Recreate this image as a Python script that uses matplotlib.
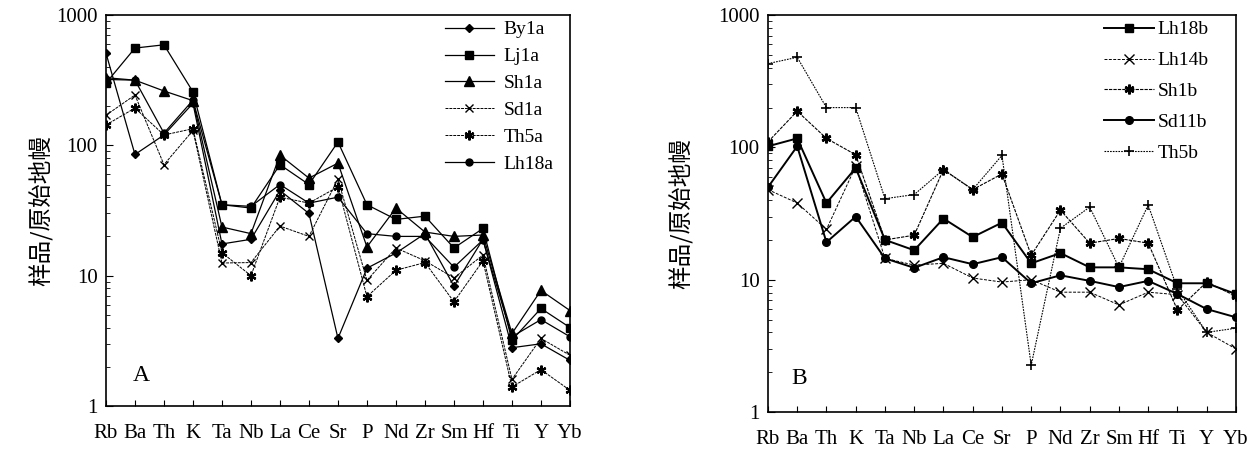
import numpy as np
import matplotlib
matplotlib.use('Agg')
import matplotlib.pyplot as plt
from matplotlib.ticker import LogLocator, NullFormatter, FixedLocator

plt.rcParams['font.family'] = ['Liberation Serif', 'Noto Sans CJK SC', 'DejaVu Sans']

elements = ['Rb', 'Ba', 'Th', 'K', 'Ta', 'Nb', 'La', 'Ce', 'Sr',
            'P', 'Nd', 'Zr', 'Sm', 'Hf', 'Ti', 'Y', 'Yb']

# panel A
by1a = [510, 85, 120, 210, 17.5, 19, 45, 30, 3.3, 11.4, 14.9, 21, 8.3, 19, 2.8, 3.0, 2.24]
lj1a = [300, 557, 590, 257, 35, 33, 71, 50, 106, 35, 27, 28.6, 16.3, 23, 3.2, 5.6, 4.0]
sh1a = [330, 316, 261, 220, 23.6, 21, 84, 56, 73, 16.6, 33, 21.6, 20, 20.5, 3.6, 7.7, 5.4]
sd1a = [170, 243, 71, 130, 12.5, 12.6, 24, 20, 55, 9.2, 16.3, 13, 9.6, 14.4, 1.6, 3.3, 2.45]
th5a = [143, 193, 120, 134, 15, 10, 40, 36, 48, 6.9, 11, 12.6, 6.3, 13, 1.4, 1.9, 1.32]
lh18a = [320, 316, 124, 222, 35, 34, 50, 36, 40, 21, 20, 20, 11.6, 18.8, 3.4, 4.6, 3.4]

# panel B
lh18b = [102, 117, 38, 70, 20, 16.7, 29, 21, 27, 13.3, 15.9, 12.4, 12.4, 12, 9.4, 9.4, 7.8]
lh14b = [48, 38, 24, 72, 14.5, 12.9, 13.3, 10.3, 9.6, 10, 8.05, 8.05, 6.45, 8.05, 7.7, 4.0, 3.0]
sh1b = [110, 188, 117, 88, 20, 21.7, 68, 48, 63, 15.3, 33.6, 18.9, 20.5, 18.9, 5.9, 9.6, 7.5]
sd11b = [50, 102, 19.2, 30, 14.5, 12.3, 14.8, 13.1, 14.8, 9.4, 10.8, 9.8, 8.8, 9.8, 7.8, 6.0, 5.2]
th5b = [430, 480, 200, 200, 41, 44, 68, 48, 87, 2.26, 24.5, 35.4, 12.4, 36.7, 8.5, 4.0, 4.3]

x = np.arange(len(elements))

fig = plt.figure(figsize=(12.54, 4.5), dpi=100)
axA = fig.add_axes([0.0845, 0.0978, 0.370, 0.869])
axB = fig.add_axes([0.6124, 0.0844, 0.3732, 0.882])

seriesA = [
    ('By1a', by1a, dict(marker='D', ms=4.5, ls='-', lw=0.9)),
    ('Lj1a', lj1a, dict(marker='s', ms=5.5, ls='-', lw=0.9)),
    ('Sh1a', sh1a, dict(marker='^', ms=6.5, ls='-', lw=0.9)),
    ('Sd1a', sd1a, dict(marker='x', ms=6, mew=1.0, ls=(0, (3, 1)), lw=0.7)),
    ('Th5a', th5a, dict(marker=(6, 2, 0), ms=7, mew=1.6, ls=(0, (3, 1)), lw=0.7)),
    ('Lh18a', lh18a, dict(marker='o', ms=5, ls='-', lw=0.9)),
]
seriesB = [
    ('Lh18b', lh18b, dict(marker='s', ms=6, ls='-', lw=1.4)),
    ('Lh14b', lh14b, dict(marker='x', ms=6.5, mew=1.0, ls=(0, (3, 1.5)), lw=0.7)),
    ('Sh1b', sh1b, dict(marker=(6, 2, 0), ms=7, mew=1.8, ls=(0, (3, 1)), lw=0.8)),
    ('Sd11b', sd11b, dict(marker='o', ms=5.5, ls='-', lw=1.4)),
    ('Th5b', th5b, dict(marker='+', ms=6.5, mew=1.2, ls=(0, (1.5, 1)), lw=0.8)),
]

cjk = ['Noto Sans CJK SC', 'DejaVu Sans']

for ax, series in [(axA, seriesA), (axB, seriesB)]:
    for name, vals, st in series:
        ax.plot(x, vals, color='black', label=name, **st)
    ax.set_yscale('log')
    ax.set_ylim(1, 1000)
    ax.set_xlim(0, 16)
    ax.set_xticks(x)
    ax.set_xticklabels(elements, fontsize=15)
    ax.yaxis.set_major_locator(FixedLocator([1, 10, 100, 1000]))
    ax.set_yticklabels(['1', '10', '100', '1000'], fontsize=15)
    ax.yaxis.set_minor_locator(LogLocator(base=10, subs=np.arange(2, 10)))
    ax.yaxis.set_minor_formatter(NullFormatter())
    ax.tick_params(axis='both', which='both', direction='in', top=False, right=False)
    ax.tick_params(axis='x', length=4, pad=13)
    ax.tick_params(axis='y', which='major', length=5, pad=6)
    ax.tick_params(axis='y', which='minor', length=3)
    for sp in ax.spines.values():
        sp.set_linewidth(1.2)
    ax.set_ylabel('样品/原始地幔', fontsize=17, family=cjk, fontweight='medium')

axA.yaxis.set_label_coords(-0.115, 0.5)
axB.yaxis.set_label_coords(-0.16, 0.5)

axA.text(0.058, 0.065, 'A', transform=axA.transAxes, fontsize=17)
axB.text(0.05, 0.07, 'B', transform=axB.transAxes, fontsize=17)

axA.legend(loc='upper left', bbox_to_anchor=(0.71, 1.01), frameon=False,
           prop={'size': 14}, handlelength=2.5, labelspacing=0.48,
           borderpad=0, handletextpad=0.5)
axB.legend(loc='upper left', bbox_to_anchor=(0.697, 1.01), frameon=False,
           prop={'size': 14}, handlelength=2.6, labelspacing=0.68,
           borderpad=0, handletextpad=0.15)

fig.savefig('out.png', dpi=100)
